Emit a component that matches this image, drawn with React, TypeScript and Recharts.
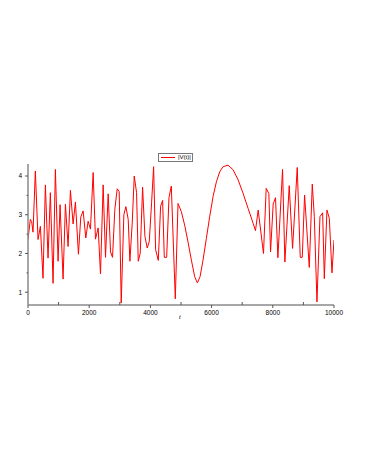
import React from "react";
import { LineChart, Line, XAxis, YAxis } from "recharts";

const tValues = [0,76,120,164,240,328,404,491,568,655,731,819,895,983,1048,1146,1223,1310,1386,1474,1550,1648,1725,1801,1889,1965,2041,2129,2205,2293,2369,2456,2533,2620,2697,2762,2838,2915,2980,3046,3133,3199,3275,3330,3406,3472,3548,3603,3668,3745,3821,3897,3963,4039,4105,4170,4258,4334,4400,4454,4531,4607,4683,4814,4902,5011,5120,5229,5339,5448,5535,5622,5720,5829,5938,6048,6157,6266,6375,6539,6703,6867,7030,7194,7358,7434,7522,7696,7784,7871,7926,8013,8089,8166,8319,8395,8537,8646,8799,8897,8963,9039,9192,9290,9356,9443,9541,9629,9683,9770,9847,9934,10000];
const vValues = [2.36,2.88,2.82,2.55,4.13,2.36,2.70,1.36,3.77,1.88,3.57,1.23,4.17,1.80,3.26,1.34,3.27,2.18,3.63,2.76,3.33,1.98,2.94,3.10,2.40,2.83,2.63,4.09,2.37,2.66,1.47,3.77,1.90,3.54,2.04,1.90,3.14,3.67,3.60,0.72,3.00,3.21,2.88,1.80,2.79,4.00,3.57,1.80,2.01,3.71,2.44,2.14,2.31,3.31,4.24,2.10,1.82,3.22,3.37,1.90,1.90,3.44,3.74,0.83,3.29,3.08,2.73,2.30,1.83,1.40,1.24,1.40,1.83,2.39,2.95,3.47,3.85,4.11,4.24,4.28,4.16,3.90,3.55,3.16,2.78,2.59,3.12,2.00,3.68,3.55,2.04,3.28,3.44,1.89,4.17,1.78,3.75,2.13,4.22,1.90,1.90,3.51,1.64,3.79,2.96,0.75,2.95,3.05,1.35,3.12,2.91,1.50,2.35];

const xTicks = [0,1000,2000,3000,4000,5000,6000,7000,8000,9000,10000];
const yTicks = [1,1.5,2,2.5,3,3.5,4];
const seriesName = "|V(t)|";
const xLabel = "t";

const data = tValues.map((t, i) => ({ t, v: vValues[i] }));

const FONT = "'Liberation Sans', Arial, sans-serif";
const AXIS = "#8a8a8a";

const XTick = (props: any) => {
  const { x, y, payload } = props;
  const major = payload.value % 2000 === 0;
  return (
    <g>
      <line x1={x} x2={x} y1={y} y2={major ? y + 3 : y - 3} stroke="#555" strokeWidth={1} />
      {major && (
        <text x={x} y={y + 10} textAnchor="middle" fontSize={6.5} fontFamily={FONT} fill="#000">
          {payload.value}
        </text>
      )}
    </g>
  );
};

const YTick = (props: any) => {
  const { x, y, payload } = props;
  const major = Number.isInteger(payload.value);
  return (
    <g>
      <line x1={x} x2={major ? x - 3 : x - 1.5} y1={y} y2={y} stroke="#555" strokeWidth={1} />
      {major && (
        <text x={x - 6} y={y + 2.3} textAnchor="end" fontSize={6.5} fontFamily={FONT} fill="#000">
          {payload.value}
        </text>
      )}
    </g>
  );
};

export default function App() {
  return (
    <div style={{ position: "absolute", left: 0, top: 0, width: 366, height: 473, background: "#fff" }}>
      <LineChart width={366} height={473} data={data} margin={{ top: 164, right: 32, bottom: 148, left: 0 }}>
        <XAxis
          dataKey="t"
          type="number"
          domain={[0, 10000]}
          ticks={xTicks}
          interval={0}
          tickSize={0}
          tickMargin={0}
          tickLine={false}
          tick={<XTick />}
          axisLine={{ stroke: AXIS, strokeWidth: 1.5 }}
          height={20}
          allowDataOverflow
        />
        <XAxis
          xAxisId="top"
          orientation="top"
          dataKey="t"
          type="number"
          domain={[0, 10000]}
          tick={false}
          tickLine={false}
          axisLine={{ stroke: AXIS, strokeWidth: 1.5 }}
          height={0}
        />
        <YAxis
          type="number"
          domain={[0.67, 4.31]}
          ticks={yTicks}
          interval={0}
          tickSize={0}
          tickMargin={0}
          tickLine={false}
          tick={<YTick />}
          axisLine={{ stroke: AXIS, strokeWidth: 1.5 }}
          width={28}
          allowDataOverflow
        />
        <YAxis
          yAxisId="right"
          orientation="right"
          type="number"
          domain={[0.67, 4.31]}
          tick={false}
          tickLine={false}
          axisLine={{ stroke: AXIS, strokeWidth: 1.5 }}
          width={0}
        />
        <Line
          type="linear"
          dataKey="v"
          name={seriesName}
          stroke="#ff0000"
          strokeWidth={1}
          dot={false}
          isAnimationActive={false}
        />
      </LineChart>
      <div
        style={{
          position: "absolute",
          left: 158,
          top: 153,
          border: "1px solid #777",
          background: "#fff",
          width: 33,
          height: 7,
          display: "flex",
          alignItems: "center",
          fontFamily: FONT,
          fontSize: 6,
          lineHeight: "7px",
        }}
      >
        <div style={{ width: 14, height: 1, background: "#ff0000", marginLeft: 2, marginRight: 3 }} />
        <span>{seriesName}</span>
      </div>
      <div
        style={{
          position: "absolute",
          left: 179,
          top: 314,
          fontFamily: FONT,
          fontStyle: "italic",
          fontSize: 6,
          lineHeight: "6px",
        }}
      >
        {xLabel}
      </div>
    </div>
  );
}
